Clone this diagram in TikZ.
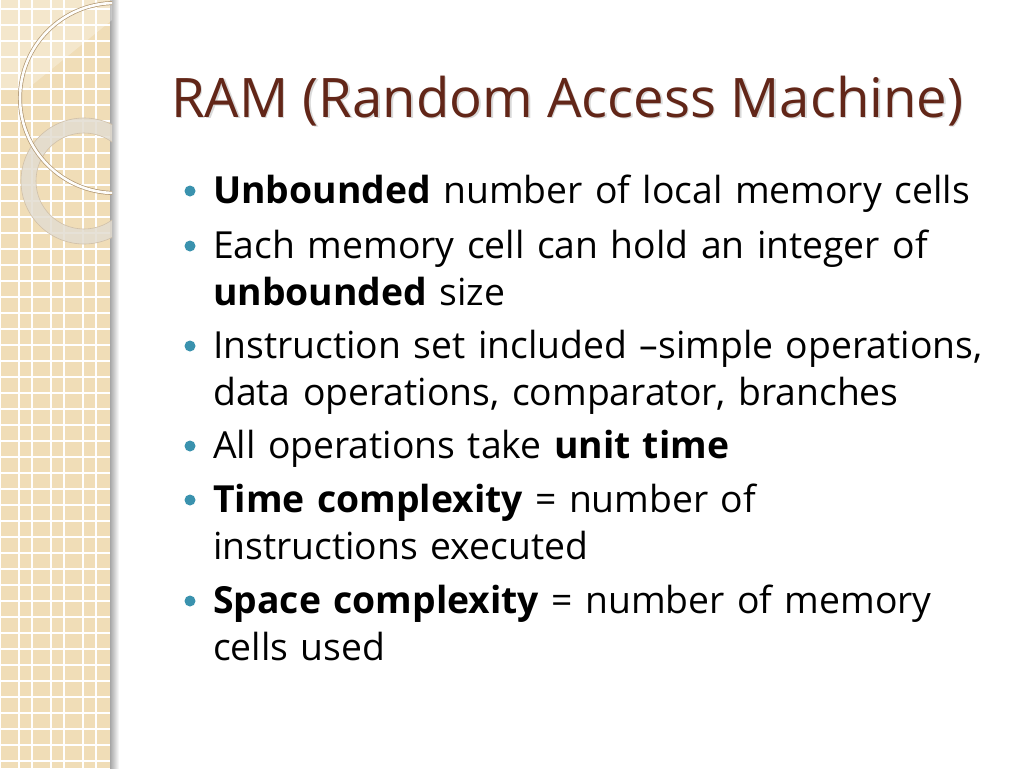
\documentclass[tikz,border=0pt]{standalone}
\usepackage{fontspec}
\setmainfont{Open Sans}
\usetikzlibrary{calc}
\definecolor{titlebrown}{RGB}{98,38,24}
\definecolor{dotteal}{RGB}{58,146,174}
\definecolor{stripbeige}{RGB}{240,221,183}
\definecolor{ringgray}{RGB}{226,220,208}
\definecolor{edgebrown}{RGB}{176,150,112}
\tikzset{
	itemtext/.style={anchor=base west,inner sep=0,text width=840pt,align=left,font=\fontsize{37.3}{47}\selectfont},
	bulletdot/.style={fill=dotteal},
}

\begin{document}
\begin{tikzpicture}[x=1pt,y=-1pt]

			\useasboundingbox (0,0) rectangle (1024,768);
			\fill[white] (0,0) rectangle (1024,768);

			% left strip
			\fill[stripbeige] (0,0) rectangle (112,768);
			\foreach \x in {0,32,...,96} {
				\draw[white,line width=1.4pt] (\x,0) -- (\x,768);
				\draw[white,line width=1.4pt] (\x+19,0) -- (\x+19,768);
			}
			\foreach \y in {9,25,...,768} {
				\draw[white,line width=1.4pt] (0,\y) -- (112,\y);
			}
			\shade[left color=black!35,right color=white] (110,0) rectangle (119,768);

			\begin{scope}
				\clip (0,0) rectangle (112,768);
				\fill[white,opacity=0.3] (0,0) -- (112,0) -- (112,20) -- (26,90) -- (0,90) -- cycle;
				\fill[ringgray,opacity=0.85,even odd rule] (84,181) circle[radius=63] (84,181) circle[radius=48];
				\draw[edgebrown!60,line width=0.6pt] (84,181) circle[radius=63];
				\draw[edgebrown!60,line width=0.6pt] (84,181) circle[radius=48];
				\draw[edgebrown,line width=4pt] (115,98) circle[radius=95];
				\draw[white!95!stripbeige,line width=2.6pt] (115,98) circle[radius=95];
			\end{scope}

			% title
			\node[anchor=base west,inner sep=0,font=\fontsize{54.5}{60}\selectfont,text=black!15] at (172.5,118.5) {RAM (Random Access Machine)};
			\node (title) [anchor=base west,inner sep=0,font=\fontsize{54.5}{60}\selectfont,text=titlebrown] at (171,117) {RAM (Random Access Machine)};

			% items
			\node (item1) [itemtext] at (213,203) {\textbf{Unbounded} number of local memory cells};
			\node (item2) [itemtext] at (213,258) {Each memory cell can hold an integer of\\\textbf{unbounded} size};
			\node (item3) [itemtext] at (213,358) {Instruction set included {--}simple operations,\\data operations, comparator, branches};
			\node (item4) [itemtext] at (213,458) {All operations take \textbf{unit time}};
			\node (item5) [itemtext] at (213,512) {\textbf{Time complexity} = number of\\instructions executed};
			\node (item6) [itemtext] at (213,613) {\textbf{Space complexity} = number of memory\\cells used};

			\foreach \i in {1,...,6}
				\fill[bulletdot] ($(item\i.base west)+(-23,-12)$) circle[radius=5.5];

		\end{tikzpicture}
\end{document}
